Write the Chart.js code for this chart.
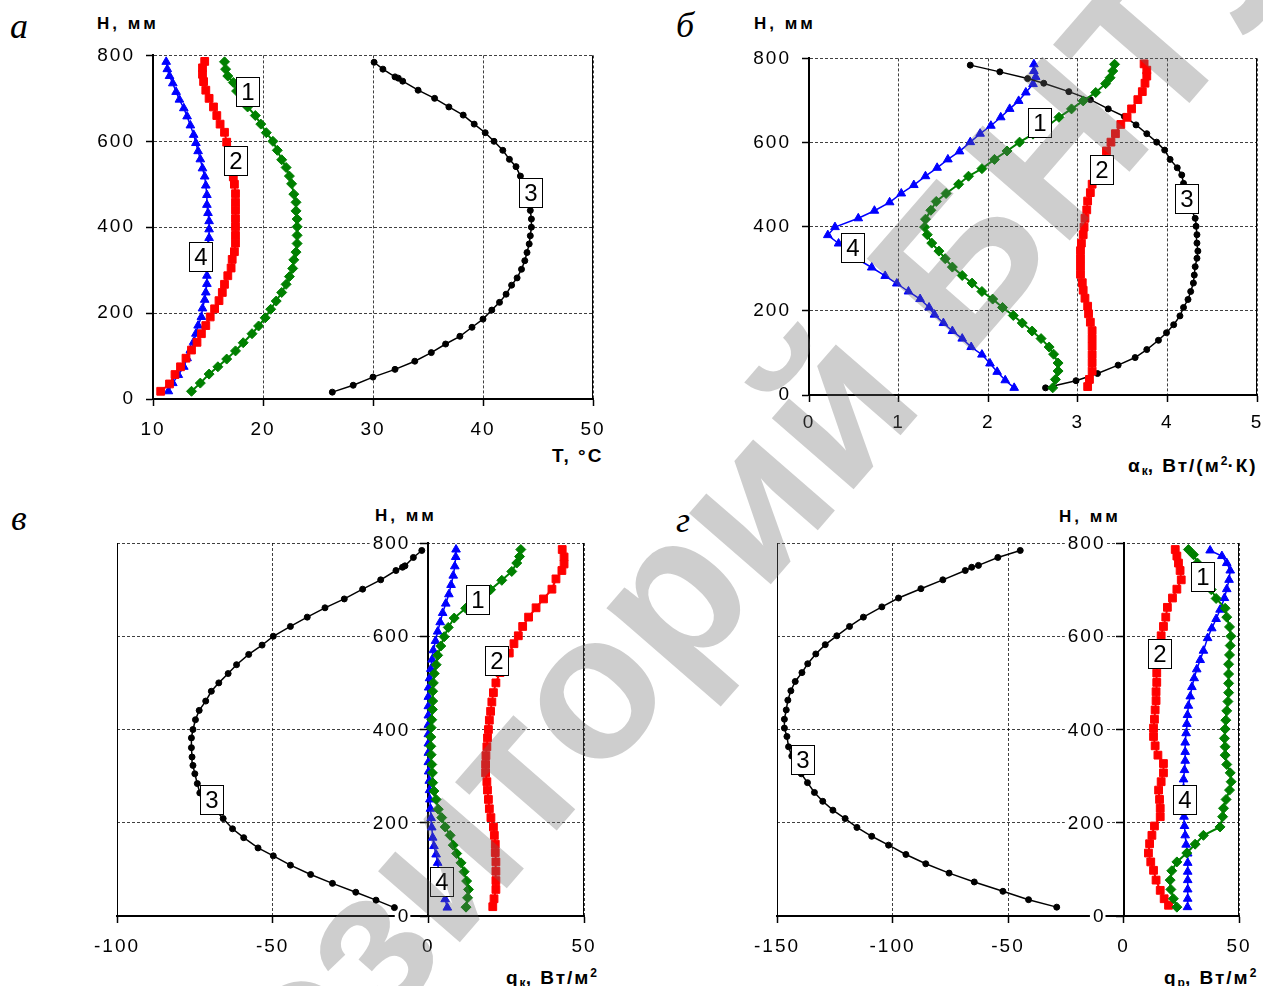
<!DOCTYPE html>
<html>
<head>
<meta charset="utf-8">
<title>H profiles</title>
<script src="https://cdn.jsdelivr.net/npm/chart.js@4.4.0/dist/chart.umd.min.js"></script>
<style>
  body { margin: 0; width: 1263px; height: 986px; overflow: hidden; background: #fff; position: relative; font-family: "Liberation Sans", Arial, sans-serif; }
  canvas.pl { position: absolute; }
  .ttl { position: absolute; font-weight: bold; white-space: nowrap; color: #000; line-height: 20px; }
  .h { font-size: 17px; letter-spacing: 3px; }
  .xt { font-size: 19px; letter-spacing: 2px; }
  .xt sub { font-size: 12px; vertical-align: -3px; letter-spacing: 0; }
  .xt sup { font-size: 12px; vertical-align: 7px; letter-spacing: 0; }
  .let { position: absolute; font-family: "Liberation Serif", serif; font-style: italic; font-size: 36px; line-height: 40px; }
  #wm { position: absolute; left: 0; top: 0; pointer-events: none; z-index: 5; }
</style>
</head>
<body>
<div class="let" style="left:10px;top:6px">а</div>
<div class="let" style="left:676px;top:5px">б</div>
<div class="let" style="left:11px;top:498px">в</div>
<div class="let" style="left:676px;top:500px">г</div>

<div class="ttl h" style="left:97px;top:14px">H, мм</div>
<div class="ttl h" style="left:754px;top:14px">H, мм</div>
<div class="ttl h" style="left:375px;top:506px">H, мм</div>
<div class="ttl h" style="left:1059px;top:507px">H, мм</div>
<div class="ttl xt" style="left:552px;top:446px">T, °C</div>
<div class="ttl xt" style="left:1128px;top:451px">α<sub>к</sub>, Вт/(м<sup>2</sup>·К)</div>
<div class="ttl xt" style="left:506px;top:963px">q<sub>к</sub>, Вт/м<sup>2</sup></div>
<div class="ttl xt" style="left:1164px;top:963px">q<sub>р</sub>, Вт/м<sup>2</sup></div>

<canvas class="pl" id="pa"></canvas>
<canvas class="pl" id="pb"></canvas>
<canvas class="pl" id="pv"></canvas>
<canvas class="pl" id="pg"></canvas>
<canvas id="wm" width="1263" height="986"></canvas>

<script>
// а: T, °C against H, mm  [value, H]
const a1 = [[13.5,18],[14.3,37],[15.1,58],[15.9,75],[16.7,93],[17.5,112],[18.2,131],[19.0,152],[19.6,170],[20.2,189],[20.7,209],[21.2,228],[21.7,248],[22.1,267],[22.4,285],[22.7,304],[22.8,324],[23.0,342],[23.1,362],[23.1,381],[23.1,401],[23.1,419],[23.0,438],[23.0,458],[22.8,477],[22.6,501],[22.4,519],[22.1,539],[21.7,557],[21.3,579],[20.9,600],[20.3,620],[19.8,640],[19.3,660],[18.6,680],[18.1,698],[17.6,717],[17.3,737],[16.8,752],[16.6,768],[16.5,785]];
const a2 = [[10.7,18],[11.5,35],[12.0,57],[12.5,75],[13.0,95],[13.5,114],[14.0,132],[14.4,152],[14.8,171],[15.2,191],[15.6,210],[16.0,229],[16.3,248],[16.5,267],[16.8,287],[17.1,305],[17.2,325],[17.4,343],[17.5,363],[17.5,381],[17.5,401],[17.5,420],[17.5,440],[17.5,458],[17.5,478],[17.4,500],[17.3,517],[17.2,538],[17.1,558],[16.9,578],[16.7,598],[16.5,621],[16.1,640],[15.8,660],[15.5,680],[15.1,700],[14.8,719],[14.6,739],[14.5,756],[14.5,771],[14.7,786]];
const a3 = [[26.3,16],[28.2,32],[30.0,51],[32.0,69],[33.8,88],[35.3,108],[36.6,128],[37.9,146],[39.0,167],[40.0,186],[40.8,207],[41.5,225],[42.1,244],[42.6,265],[43.1,282],[43.5,302],[43.8,322],[44.0,341],[44.2,361],[44.3,380],[44.4,400],[44.4,419],[44.3,439],[44.2,460],[43.9,480],[43.7,500],[43.4,519],[43.0,541],[42.4,558],[41.8,579],[41.0,600],[40.2,620],[39.2,640],[38.2,661],[36.9,680],[35.6,700],[34.1,719],[32.7,740],[32.3,747],[32.0,750],[30.9,768],[30.1,784]];
const a4 = [[11.4,18],[11.8,37],[12.3,56],[12.8,75],[13.1,95],[13.4,114],[13.7,133],[13.9,152],[14.1,171],[14.4,191],[14.5,211],[14.7,231],[14.8,248],[14.9,268],[14.9,287],[15.0,310],[15.0,333],[15.0,356],[15.1,375],[15.1,395],[15.1,414],[15.0,433],[14.9,452],[14.9,475],[14.8,497],[14.7,518],[14.5,537],[14.3,558],[14.1,577],[13.9,596],[13.7,615],[13.4,637],[13.1,658],[12.8,677],[12.4,697],[12.1,715],[11.8,735],[11.5,752],[11.3,768],[11.2,785]];

// б: alpha_k, W/(m2 K)
const b1 = [[2.72,17],[2.75,37],[2.78,57],[2.78,76],[2.73,97],[2.68,114],[2.59,134],[2.49,152],[2.38,171],[2.28,189],[2.16,208],[2.05,228],[1.93,246],[1.82,266],[1.71,284],[1.60,304],[1.52,324],[1.45,342],[1.37,361],[1.32,381],[1.29,399],[1.30,418],[1.36,439],[1.42,460],[1.53,479],[1.67,501],[1.78,520],[1.93,538],[2.07,560],[2.21,580],[2.35,601],[2.50,620],[2.65,637],[2.79,660],[2.93,680],[3.06,699],[3.20,719],[3.31,740],[3.36,754],[3.39,770],[3.41,786]];
const b2 = [[3.11,20],[3.13,37],[3.16,57],[3.16,77],[3.16,96],[3.16,116],[3.16,134],[3.16,153],[3.14,173],[3.12,193],[3.11,211],[3.08,230],[3.06,249],[3.05,267],[3.03,287],[3.03,306],[3.03,324],[3.03,343],[3.04,361],[3.06,381],[3.07,399],[3.08,420],[3.10,440],[3.11,461],[3.14,481],[3.16,501],[3.20,520],[3.24,540],[3.28,560],[3.32,580],[3.37,601],[3.42,621],[3.48,643],[3.55,660],[3.60,680],[3.67,702],[3.72,721],[3.75,741],[3.77,758],[3.77,772],[3.74,787]];
const b3 = [[2.64,17],[2.98,34],[3.22,51],[3.45,71],[3.64,89],[3.77,108],[3.90,130],[3.99,148],[4.07,167],[4.14,188],[4.18,208],[4.23,227],[4.26,246],[4.29,266],[4.30,285],[4.31,305],[4.33,325],[4.34,342],[4.33,361],[4.33,381],[4.32,401],[4.31,420],[4.27,440],[4.24,462],[4.21,482],[4.18,503],[4.16,523],[4.11,540],[4.03,560],[3.97,582],[3.88,601],[3.77,621],[3.65,642],[3.52,662],[3.34,680],[3.14,702],[2.90,721],[2.62,741],[2.44,752],[2.13,768],[1.80,784]];
const b4 = [[2.29,17],[2.19,35],[2.10,55],[2.02,75],[1.93,96],[1.81,114],[1.71,134],[1.60,152],[1.50,171],[1.40,191],[1.34,208],[1.24,228],[1.11,246],[0.98,265],[0.85,283],[0.70,303],[0.55,322],[0.44,341],[0.33,360],[0.21,380],[0.29,399],[0.55,420],[0.73,438],[0.90,458],[1.03,479],[1.17,499],[1.30,520],[1.43,540],[1.55,560],[1.68,579],[1.80,601],[1.91,621],[2.03,640],[2.14,660],[2.24,680],[2.34,699],[2.42,719],[2.50,739],[2.53,756],[2.51,770],[2.51,786]];

// в: q_k, W/m2
const v1 = [[12.1,19],[12.6,39],[12.9,57],[12.3,75],[11.5,95],[10.5,114],[9.1,134],[8.0,152],[7.0,173],[5.4,191],[4.3,211],[3.2,229],[2.5,250],[1.8,268],[1.4,286],[1.3,307],[1.1,325],[0.9,346],[0.8,364],[0.8,384],[0.9,404],[1.1,421],[1.3,443],[1.4,461],[1.4,482],[1.6,500],[1.9,520],[2.5,539],[3.0,559],[4.0,579],[5.1,599],[6.4,619],[8.3,639],[12.0,660],[16.0,680],[20.0,700],[23.6,720],[26.8,739],[28.4,757],[29.3,771],[29.7,786]];
const v2 = [[20.7,20],[21.1,37],[21.7,57],[21.7,76],[21.7,96],[21.7,116],[21.5,136],[21.5,154],[21.2,173],[20.9,191],[20.1,211],[19.6,230],[19.3,250],[19.0,270],[18.8,288],[18.4,307],[18.4,325],[18.5,344],[18.8,363],[19.0,382],[19.3,400],[19.6,420],[20.0,439],[20.4,459],[20.9,479],[21.7,500],[23.0,522],[24.5,543],[26.0,564],[27.5,584],[28.9,601],[30.3,621],[32.2,641],[34.6,661],[37.0,680],[39.7,701],[41.0,723],[42.9,741],[43.6,755],[43.6,770],[43.0,786]];
const v3 = [[-10.9,18],[-16.8,34],[-23.3,51],[-30.8,70],[-37.8,89],[-44.3,109],[-49.8,129],[-54.7,146],[-59.3,168],[-62.9,187],[-65.9,209],[-68.5,228],[-70.8,246],[-73.4,264],[-74.2,284],[-75.0,305],[-75.6,323],[-75.9,341],[-76.1,361],[-76.1,382],[-75.6,400],[-74.8,421],[-73.6,441],[-71.5,461],[-69.7,482],[-67.3,500],[-64.3,520],[-61.6,539],[-57.7,561],[-53.4,581],[-49.8,600],[-44.3,621],[-38.9,641],[-33.2,661],[-27.0,680],[-21.1,701],[-15.3,721],[-10.4,741],[-8.3,748],[-7.5,751],[-4.8,769],[-2.1,784]];
const v4 = [[6.1,18],[5.4,36],[4.6,55],[3.9,75],[3.3,95],[3.0,114],[2.5,132],[1.8,150],[1.4,168],[1.1,190],[0.9,210],[0.7,230],[0.5,250],[0.4,270],[0.3,290],[0.1,310],[0,330],[0,350],[0,370],[0,390],[0,410],[0,430],[0,450],[0,470],[0.1,490],[0.4,510],[0.8,530],[1.2,550],[1.6,570],[2.3,590],[3.0,610],[3.8,630],[4.6,650],[5.6,670],[6.6,690],[7.3,710],[8.0,730],[8.5,750],[8.8,770],[8.9,786]];

// г: q_r, W/m2
const g1 = [[23.1,19],[21.6,37],[20.5,57],[20.2,77],[20.9,97],[23.1,116],[27.4,135],[31.0,154],[34.6,173],[41.8,191],[42.9,213],[43.3,231],[44.4,250],[45.9,270],[46.6,288],[46.2,307],[44.7,325],[44.0,345],[44.0,363],[43.7,381],[44.0,401],[44.3,420],[44.7,440],[45.2,460],[45.5,479],[45.5,499],[45.5,519],[45.5,540],[45.9,560],[46.2,580],[46.5,600],[45.9,620],[44.7,641],[44.0,660],[40.1,681],[38.0,700],[36.0,720],[34.0,740],[32.0,757],[30.3,775],[28.1,786]];
const g2 = [[19.5,23],[17.6,37],[15.9,55],[14.1,77],[13.0,98],[11.8,116],[10.8,135],[11.3,155],[12.3,173],[13.4,193],[15.9,213],[15.9,231],[15.6,250],[15.2,270],[16.3,288],[17.3,307],[17.3,327],[14.9,345],[13.7,365],[13.0,385],[13.0,403],[13.4,422],[13.7,442],[14.1,462],[14.1,481],[14.4,501],[14.4,521],[14.8,541],[15.3,561],[15.8,581],[16.3,601],[17.3,621],[18.3,641],[19.0,662],[21.2,682],[23.1,701],[25.0,721],[24.5,741],[23.8,757],[23.1,772],[22.4,786]];
const g3 = [[-28.9,19],[-41.1,35],[-52.2,53],[-64.6,73],[-75.5,92],[-85.6,112],[-94.2,132],[-101.7,152],[-109.0,171],[-115.4,190],[-120.5,209],[-125.8,227],[-130.2,246],[-133.8,265],[-136.8,286],[-139.5,305],[-141.8,324],[-143.6,343],[-145.0,363],[-145.7,385],[-146.8,403],[-146.8,422],[-146.0,442],[-145.3,463],[-144.0,483],[-142.1,503],[-139.2,522],[-136.7,541],[-133.2,562],[-129.1,582],[-124.1,601],[-118.6,621],[-112.6,641],[-104.6,663],[-97.4,682],[-87.7,702],[-78.2,721],[-68.5,741],[-65.7,748],[-62.8,752],[-54.4,769],[-44.7,784]];
const g4 = [[27.7,19],[27.8,37],[27.8,57],[27.8,77],[27.8,95],[27.8,114],[27.8,134],[27.1,153],[26.7,173],[26.4,193],[26.2,213],[26.0,233],[26.0,253],[26.0,273],[26.0,293],[26.4,313],[26.7,333],[26.7,352],[26.7,372],[27.1,392],[27.4,412],[27.7,431],[28.1,451],[28.9,471],[29.6,491],[30.6,510],[31.7,529],[33.2,549],[34.6,569],[36.4,596],[38.2,617],[40.1,637],[41.8,657],[43.7,682],[44.7,701],[45.7,721],[46.2,741],[44.7,757],[42.6,772],[37.5,784]];

// curve number tags: [text, value, H]
const aTags = [['1',18.6,714],['2',17.5,553],['3',44.4,479],['4',14.4,331]];
const bTags = [['1',2.58,647],['2',3.27,535],['3',4.22,467],['4',0.49,349]];
const vTags = [['1',15.9,678],['2',21.9,547],['3',-69.6,249],['4',4.3,72]];
const gTags = [['1',34.2,727],['2',15.6,562],['3',-138.7,334],['4',26.7,249]];

const hTicks = [0, 800, 200];

const ML = 80, MT = 20, MR = 40, MB = 50;
const GRID = 'rgba(0,0,0,0.75)';
const FONT = '"Liberation Sans", Arial, sans-serif';

Chart.defaults.font.family = FONT;
Chart.defaults.font.size = 19;
Chart.defaults.color = '#000';

function series(pts, n) {
  const base = {
    data: pts.map(p => ({x: p[0], y: p[1]})),
    showLine: true, tension: 0, pointBorderWidth: 1, pointHoverRadius: 0
  };
  if (n == 1) return Object.assign(base, {borderColor: '#008000', backgroundColor: '#008000', borderWidth: 2, pointStyle: 'rectRot', pointRadius: 5});
  if (n == 2) return Object.assign(base, {borderColor: '#ff0000', backgroundColor: '#ff0000', borderWidth: 2, pointStyle: 'rect', pointRadius: 5.5});
  if (n == 3) return Object.assign(base, {borderColor: '#000', backgroundColor: '#000', borderWidth: 1.5, pointStyle: 'circle', pointRadius: 3});
  return Object.assign(base, {borderColor: '#0000ff', backgroundColor: '#0000ff', borderWidth: 1.5, pointStyle: 'triangle', pointRadius: 5});
}

const spacing = {
  id: 'spacing',
  afterInit(chart) { chart.ctx.letterSpacing = '2px'; },
  beforeDraw(chart) { chart.ctx.letterSpacing = '2px'; }
};

const frame = {
  id: 'frame',
  beforeDatasetsDraw(chart, args, opts) {
    const {ctx, chartArea: a} = chart;
    ctx.save();
    ctx.strokeStyle = '#000';
    ctx.lineWidth = 1;
    ctx.beginPath();
    ctx.moveTo(a.right - 0.5, a.top);
    ctx.lineTo(a.right - 0.5, a.bottom);
    if (opts.mid) {
      ctx.moveTo(a.left + 0.5, a.top);
      ctx.lineTo(a.left + 0.5, a.bottom);
    }
    ctx.stroke();
    if (opts.mid) {
      // H labels beside the axis that stands at zero
      const x0 = chart.scales.x.getPixelForValue(0);
      ctx.font = '19px ' + FONT;
      ctx.textAlign = 'right';
      ctx.textBaseline = 'middle';
      chart.scales.y.ticks.forEach(t => {
        const py = chart.scales.y.getPixelForValue(t.value);
        const s = String(t.value);
        const w = ctx.measureText(s).width;
        ctx.fillStyle = '#fff';
        ctx.fillRect(x0 - 20 - w - 1, py - 8, w + 3, 16);
        ctx.fillStyle = '#000';
        ctx.fillText(s, x0 - 18, py + 1);
      });
    }
    ctx.restore();
  }
};

const tags = {
  id: 'tags',
  afterDatasetsDraw(chart, args, opts) {
    const {ctx, scales: {x, y}} = chart;
    ctx.save();
    ctx.letterSpacing = '0px';
    ctx.font = '24px ' + FONT;
    ctx.textAlign = 'center';
    ctx.textBaseline = 'middle';
    opts.list.forEach(t => {
      const px = Math.round(x.getPixelForValue(t[1]));
      const py = Math.round(y.getPixelForValue(t[2]));
      ctx.fillStyle = '#fff';
      ctx.fillRect(px - 11.5, py - 14.5, 23, 29);
      ctx.strokeStyle = '#000';
      ctx.lineWidth = 1;
      ctx.strokeRect(px - 11.5, py - 14.5, 23, 29);
      ctx.fillStyle = '#000';
      ctx.fillText(t[0], px, py + 1);
    });
    ctx.restore();
  }
};

function panel(id, rect, xMin, xMax, xStep, xPad, sets, list, mid) {
  const cv = document.getElementById(id);
  cv.width = rect[2] - rect[0] + ML + MR;
  cv.height = rect[3] - rect[1] + MT + MB;
  cv.style.left = (rect[0] - ML) + 'px';
  cv.style.top = (rect[1] - MT) + 'px';
  return new Chart(cv, {
    type: 'scatter',
    data: { datasets: sets.map((s, i) => series(s, i + 1)) },
    options: {
      responsive: false,
      animation: false,
      events: [],
      layout: { padding: { left: mid ? ML : 0, top: MT, right: MR, bottom: 0 } },
      plugins: { legend: { display: false }, tooltip: { enabled: false }, frame: { mid: mid }, tags: { list: list } },
      scales: {
        x: {
          type: 'linear', position: 'bottom', min: xMin, max: xMax,
          afterFit: s => { s.height = MB; },
          ticks: { stepSize: xStep, padding: xPad, maxRotation: 0 },
          grid: { color: GRID, lineWidth: 1, tickColor: '#000', tickWidth: 1.5, tickLength: 7 },
          border: { color: '#000', width: 2, dash: [3, 2] }
        },
        y: {
          type: 'linear', position: mid ? { x: 0 } : 'left', min: hTicks[0], max: hTicks[1],
          afterFit: s => { if (!mid) s.width = ML; },
          ticks: { stepSize: hTicks[2], padding: 11, display: !mid },
          grid: { color: GRID, lineWidth: 1, tickColor: '#000', tickWidth: 1.5, tickLength: 7 },
          border: { color: '#000', width: 2, dash: [3, 2] }
        }
      }
    },
    plugins: [spacing, frame, tags]
  });
}

panel('pa', [153, 53, 593, 399], 10, 50, 10, 12, [a1, a2, a3, a4], aTags, false);
panel('pb', [809, 56, 1257, 395], 0, 5, 1, 9, [b1, b2, b3, b4], bTags, false);
panel('pv', [117, 543, 584, 916], -100, 50, 50, 12, [v1, v2, v3, v4], vTags, true);
panel('pg', [777, 543, 1239, 916], -150, 50, 50, 12, [g1, g2, g3, g4], gTags, true);

// repository watermark laid over the page
const wm = document.getElementById('wm').getContext('2d');
const wmText = 'Репозиторий БНТУ';
wm.font = 'bold 205px ' + FONT;
wm.fillStyle = 'rgba(105,105,105,0.33)';
wm.translate(600, 700);
wm.rotate(-49 * Math.PI / 180);
const pre = wm.measureText('Репозит').width + wm.measureText('о').width / 2;
wm.fillText(wmText, -pre, 53);
</script>
</body>
</html>
